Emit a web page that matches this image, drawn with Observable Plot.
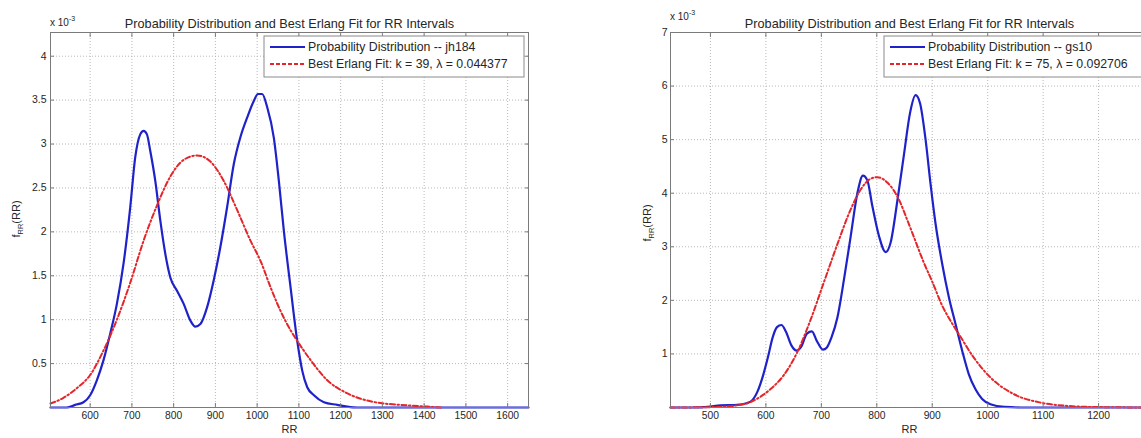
<!DOCTYPE html>
<html><head><meta charset="utf-8">
<script src="https://cdn.jsdelivr.net/npm/d3@7"></script>
<script src="https://cdn.jsdelivr.net/npm/@observablehq/plot@0.6"></script>
<style>
html,body{margin:0;padding:0;background:#fff;overflow:hidden;}
#wrap{position:relative;width:1141px;height:438px;overflow:hidden;background:#fff;}
.panel{position:absolute;top:0;width:560px;height:438px;}
.panel svg{max-width:none !important;width:560px;height:438px;display:block;}
</style></head>
<body><div id="wrap"><div class="panel" id="p1" style="left:0px"></div><div class="panel" id="p2" style="left:620px"></div></div>
<script>
const TITLE = "Probability Distribution and Best Erlang Fit for RR Intervals";
const X_LABEL = "RR";

// ---- jh184 (left) : values in units of 10^-3
const jhRR  = [505,544,564,584,600,616,632,648,664,680,696,708,720,728,736,744,756,768,780,792,808,824,840,852,864,880,896,912,928,944,960,976,992,1002,1012,1024,1040,1052,1064,1080,1096,1108,1120,1136,1160,1192,1216,1240,1650];
const jhPdf = [0,0,0.03,0.06,0.14,0.31,0.54,0.84,1.18,1.64,2.28,2.85,3.11,3.15,3.11,2.92,2.58,2.13,1.75,1.48,1.33,1.18,0.99,0.92,0.95,1.14,1.45,1.83,2.28,2.77,3.08,3.30,3.49,3.57,3.57,3.42,3.07,2.58,2.01,1.37,0.76,0.42,0.23,0.14,0.06,0.03,0.01,0,0];
const jhFitRR  = [505,536,568,600,632,664,696,728,760,792,824,856,888,920,952,984,1008,1032,1056,1080,1100,1128,1168,1208,1248,1296,1344,1408,1440];
const jhFitPdf = [0.045,0.11,0.22,0.37,0.65,1.0,1.42,1.9,2.3,2.63,2.82,2.87,2.8,2.58,2.25,1.9,1.67,1.37,1.1,0.88,0.73,0.54,0.31,0.18,0.10,0.05,0.03,0.01,0];
const jhLegend = ["Probability Distribution -- jh184", "Best Erlang Fit: k = 39, \u03bb = 0.044377"];
const jhXTicks = [600,700,800,900,1000,1100,1200,1300,1400,1500,1600];
const jhYTicks = [0.5,1,1.5,2,2.5,3,3.5,4];

// ---- gs10 (right)
const gsRR  = [428,470,495,518,548,565,575,585,595,604,612,620,628,636,646,656,664,674,683,692,703,710,718,729,741,753,765,775,783,792,804,816,825,837,849,860,870,878,888,897,906,918,930,942,954,966,978,990,1005,1030,1060,1290];
const gsPdf = [0,0,0.01,0.04,0.05,0.08,0.13,0.3,0.6,0.95,1.3,1.5,1.54,1.42,1.16,1.06,1.14,1.38,1.42,1.24,1.08,1.12,1.3,1.68,2.4,3.2,4.0,4.33,4.24,3.76,3.2,2.9,3.08,3.85,4.72,5.5,5.83,5.68,5.0,4.17,3.43,2.68,2.06,1.56,1.06,0.62,0.34,0.16,0.06,0.01,0,0];
const gsFitRR  = [428,490,520,548,572,590,608,632,656,680,704,729,753,771,789,801,819,840,855,867,885,900,918,934,951,975,1005,1047,1096,1144,1190,1290];
const gsFitPdf = [0,0.005,0.015,0.04,0.1,0.2,0.34,0.6,1.02,1.62,2.32,3.05,3.7,4.07,4.27,4.3,4.2,3.88,3.5,3.18,2.7,2.35,1.9,1.6,1.32,0.93,0.56,0.25,0.09,0.03,0.01,0];
const gsLegend = ["Probability Distribution -- gs10", "Best Erlang Fit: k = 75, \u03bb = 0.092706"];
const gsXTicks = [500,600,700,800,900,1000,1100,1200];
const gsYTicks = [1,2,3,4,5,6,7];

const FONT = "'Liberation Sans', Arial, Helvetica, sans-serif";
const BLUE = "#1f22c8";
const RED = "#e3262a";
const AXIS = "#7a7a7a";
const TEXT = "#262626";

function table(xs, ys) { return xs.map((x, i) => ({x, y: ys[i]})); }

function panel(el, cfg) {
  const gridStyle = {stroke: "#b8b8b8", strokeOpacity: 1, strokeDasharray: "1,2", strokeWidth: 1};
  const svg = Plot.plot({
    width: 560, height: 438,
    marginLeft: 50, marginRight: 32, marginTop: 32, marginBottom: 31,
    style: {fontFamily: FONT, color: TEXT, background: "white", overflow: "visible", maxWidth: "none"},
    x: {domain: cfg.xDomain},
    y: {domain: cfg.yDomain},
    marks: [
      Plot.gridX(cfg.xTicks, gridStyle),
      Plot.gridY(cfg.yTicks, gridStyle),
      Plot.line(table(cfg.rr, cfg.pdf), {x: "x", y: "y", stroke: BLUE, strokeWidth: 2.2, curve: "monotone-x"}),
      Plot.line(table(cfg.fitRR, cfg.fitPdf), {x: "x", y: "y", stroke: RED, strokeWidth: 2, strokeDasharray: "5,2.5,1.5,2.5", curve: "monotone-x"}),
      Plot.frame({stroke: AXIS}),
      Plot.axisX(cfg.xTicks, {anchor: "bottom", tickSize: -4, tickFormat: () => "", stroke: AXIS, label: null}),
      Plot.axisX(cfg.xTicks, {anchor: "top", tickSize: -4, tickFormat: () => "", stroke: AXIS, label: null}),
      Plot.axisY(cfg.yTicks, {anchor: "left", tickSize: -4, tickFormat: () => "", stroke: AXIS, label: null}),
      Plot.axisY(cfg.yTicks, {anchor: "right", tickSize: -4, tickFormat: () => "", stroke: AXIS, label: null}),
      Plot.axisX(cfg.xTicks, {anchor: "bottom", tickSize: 0, tickPadding: 4, tickFormat: d => String(d), fontSize: 10.3, label: null}),
      Plot.axisY(cfg.yTicks, {anchor: "left", tickSize: 0, tickPadding: cfg.yPad, tickFormat: d => String(d), fontSize: 10.5, label: null}),
      Plot.text([TITLE], {frameAnchor: "top", dy: -14, fontSize: 12.7, fill: TEXT}),
      Plot.text([X_LABEL], {frameAnchor: "bottom", dy: 25, fontSize: 11, fill: TEXT})
    ]
  });
  const s = d3.select(svg);
  // exponent
  const ex = s.append("text").attr("x", 50).attr("y", cfg.expY).attr("text-anchor", "start")
    .attr("font-family", FONT).attr("font-size", 10).attr("fill", TEXT);
  ex.append("tspan").text("x 10");
  ex.append("tspan").attr("dy", -5).attr("font-size", 7).text("-3");
  // y label
  const yl = s.append("text")
    .attr("transform", `translate(${cfg.ylabX},${cfg.ylabY}) rotate(-90)`)
    .attr("text-anchor", "middle").attr("font-family", FONT).attr("font-size", 11).attr("fill", TEXT);
  yl.append("tspan").text("f");
  yl.append("tspan").attr("dy", 3).attr("font-size", 7.5).text("RR");
  yl.append("tspan").attr("dy", -3).text("(RR)");
  // legend
  const g = s.append("g").attr("font-family", FONT).attr("font-size", 12.3).attr("fill", TEXT).attr("text-anchor", "start");
  g.append("rect").attr("x", 264).attr("y", 36).attr("width", 260).attr("height", 41)
    .attr("fill", "white").attr("stroke", "#8a8a8a").attr("stroke-width", 1);
  g.append("line").attr("x1", 270).attr("x2", 305).attr("y1", 47).attr("y2", 47)
    .attr("stroke", BLUE).attr("stroke-width", 2);
  g.append("line").attr("x1", 270).attr("x2", 305).attr("y1", 64).attr("y2", 64)
    .attr("stroke", RED).attr("stroke-width", 2).attr("stroke-dasharray", "4,2");
  g.append("text").attr("x", 308).attr("y", 47).attr("dy", "0.35em").text(cfg.legend[0]);
  g.append("text").attr("x", 308).attr("y", 64).attr("dy", "0.35em").text(cfg.legend[1]);
  el.appendChild(svg);
}

panel(document.getElementById("p1"), {
  rr: jhRR, pdf: jhPdf, fitRR: jhFitRR, fitPdf: jhFitPdf, legend: jhLegend,
  xTicks: jhXTicks, yTicks: jhYTicks, xDomain: [505, 1650], yDomain: [0, 4.27],
  yPad: 4, expY: 26, ylabX: 20, ylabY: 219
});
panel(document.getElementById("p2"), {
  rr: gsRR, pdf: gsPdf, fitRR: gsFitRR, fitPdf: gsFitPdf, legend: gsLegend,
  xTicks: gsXTicks, yTicks: gsYTicks, xDomain: [428, 1290], yDomain: [0, 7],
  yPad: 3, expY: 20, ylabX: 31, ylabY: 223
});
</script>
</body></html>
